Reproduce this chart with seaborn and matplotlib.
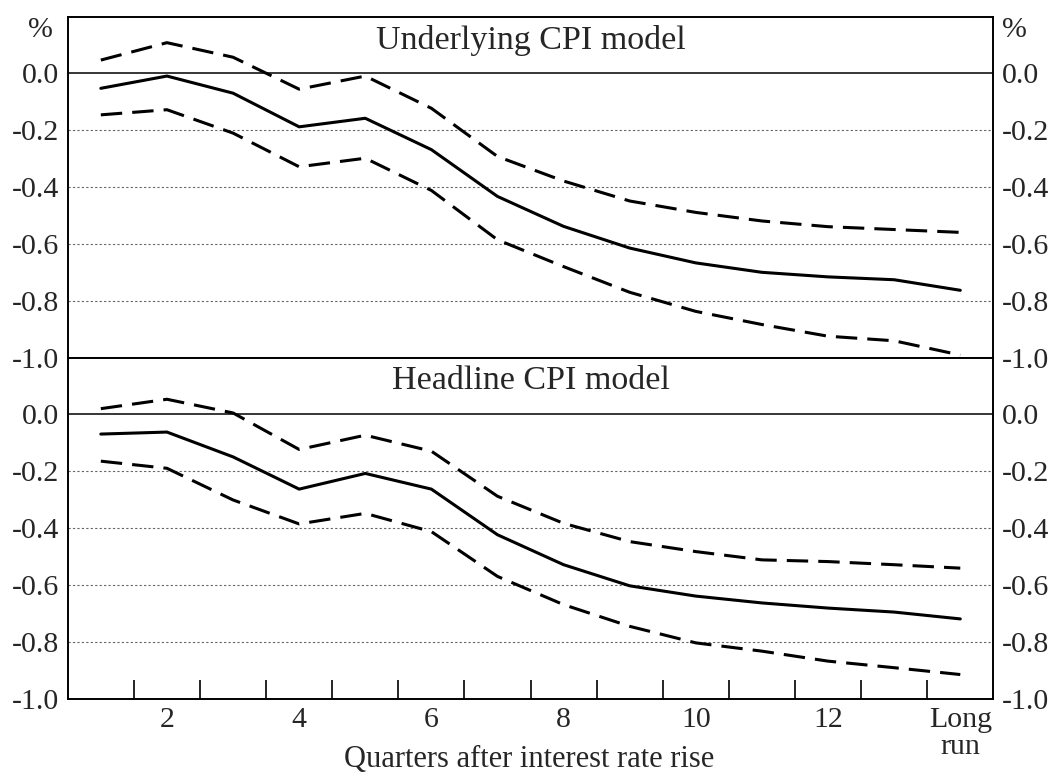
import matplotlib
matplotlib.use("Agg")
import matplotlib.pyplot as plt
import seaborn as sns
import pandas as pd
from matplotlib.ticker import FixedLocator

# 数据
quarters = list(range(1, 15))
x_labels = ["2", "4", "6", "8", "10", "12", "Long\nrun"]
x_label_pos = [2, 4, 6, 8, 10, 12, 14]

underlying_mid = [-0.055, -0.012, -0.072, -0.19, -0.16, -0.27, -0.434,
                  -0.539, -0.615, -0.667, -0.70, -0.716, -0.726, -0.763]
underlying_up = [0.044, 0.105, 0.054, -0.058, -0.012, -0.125, -0.294,
                 -0.38, -0.45, -0.49, -0.52, -0.54, -0.55, -0.56]
underlying_low = [-0.148, -0.13, -0.212, -0.33, -0.30, -0.413, -0.586,
                  -0.68, -0.77, -0.837, -0.883, -0.924, -0.94, -0.99]

headline_mid = [-0.072, -0.065, -0.152, -0.265, -0.21, -0.265, -0.425,
                -0.53, -0.604, -0.64, -0.664, -0.682, -0.696, -0.72]
headline_up = [0.017, 0.05, 0.002, -0.126, -0.076, -0.132, -0.29,
               -0.385, -0.449, -0.484, -0.513, -0.519, -0.53, -0.542]
headline_low = [-0.167, -0.192, -0.303, -0.387, -0.35, -0.414, -0.571,
                -0.67, -0.746, -0.804, -0.833, -0.868, -0.891, -0.915]

y_ticks = [0.0, -0.2, -0.4, -0.6, -0.8, -1.0]
y_labels = ["0.0", "-0.2", "-0.4", "-0.6", "-0.8", "-1.0"]
titles = ["Underlying CPI model", "Headline CPI model"]


def long_df(mid, up, low):
    rows = []
    for name, vals in [("mid", mid), ("up", up), ("low", low)]:
        for q, v in zip(quarters, vals):
            rows.append({"quarter": q, "value": v, "band": name})
    return pd.DataFrame(rows)


sns.set_style("white")
plt.rcParams["font.family"] = ["Liberation Serif", "DejaVu Serif"]

fig = plt.figure(figsize=(10.59, 7.73), dpi=100)
left, right, bottom, top = 0.064, 0.938, 0.096, 0.978
h = (top - bottom) / 2
ax_top = fig.add_axes([left, bottom + h, right - left, h])
ax_bot = fig.add_axes([left, bottom, right - left, h], sharex=ax_top)

panels = [(ax_top, underlying_mid, underlying_up, underlying_low),
          (ax_bot, headline_mid, headline_up, headline_low)]

for i, (ax, mid, up, low) in enumerate(panels):
    df = long_df(mid, up, low)
    sns.lineplot(data=df, x="quarter", y="value", style="band",
                 dashes={"mid": "", "up": (7, 3.3), "low": (7, 3.3)},
                 color="black", linewidth=2.2, legend=False, ax=ax)
    ax.set_xlim(0.5, 14.5)
    ax.set_ylim(-1.0, 0.195)
    for yv in [-0.2, -0.4, -0.6, -0.8]:
        ax.axhline(yv, color="#666666", linewidth=0.8, linestyle=(0, (2, 2)), zorder=0)
    ax.axhline(0.0, color="black", linewidth=1.1, zorder=1)
    for s in ax.spines.values():
        s.set_color("black")
        s.set_linewidth(1.4)
    ax.set_xlabel("")
    ax.set_ylabel("")
    ax.set_yticks(y_ticks)
    ax.set_yticklabels(y_labels)
    ax.tick_params(axis="y", which="both", length=0, labelsize=21.5, pad=6,
                   left=True, right=True, labelleft=True, labelright=True)
    ax.text(0.5, 0.932, titles[i], transform=ax.transAxes, ha="center", va="center",
            fontsize=24.5)

# 只保留下面板的 x 轴刻度
ax_top.tick_params(axis="x", which="both", length=0, labelbottom=False)
ax_bot.set_xticks(x_label_pos)
ax_bot.set_xticklabels(x_labels)
ax_bot.xaxis.set_minor_locator(FixedLocator([q + 0.5 for q in quarters[:-1]]))
ax_bot.tick_params(axis="x", which="major", length=0, labelsize=21.5, pad=6)
ax_bot.tick_params(axis="x", which="minor", direction="in", length=14,
                   width=1.2, color="black", bottom=True)
for lab in ax_bot.get_xticklabels():
    lab.set_verticalalignment("top")
    lab.set_linespacing(1.05)
ax_bot.set_xlabel("")
fig.text(0.5, 0.017, "Quarters after interest rate rise", ha="center", va="center",
         fontsize=22)

fig.text(0.038, 0.961, "%", ha="center", va="center", fontsize=21.5)
fig.text(0.958, 0.961, "%", ha="center", va="center", fontsize=21.5)

fig.savefig("out.png", dpi=100)
